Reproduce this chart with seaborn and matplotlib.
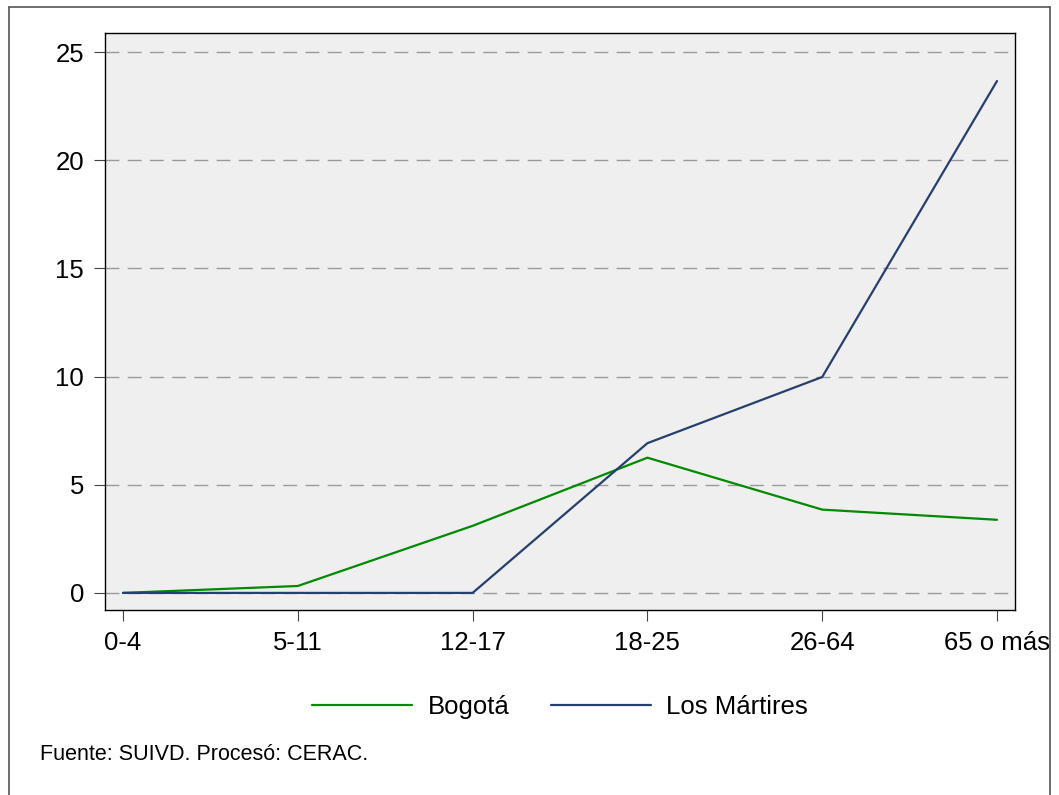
import matplotlib
matplotlib.use('Agg')
import matplotlib.pyplot as plt
import seaborn as sns
import pandas as pd
from matplotlib.lines import Line2D

# Datos
grupos_edad = ['0-4', '5-11', '12-17', '18-25', '26-64', '65 o más']
bogota = [0.0, 0.32, 3.1, 6.25, 3.85, 3.38]
los_martires = [0.0, 0.0, 0.0, 6.92, 9.98, 23.66]
series = ['Bogotá', 'Los Mártires']
colores = ['#008a00', '#253f6e']

df = pd.DataFrame({
    'pos': list(range(len(grupos_edad))) * 2,
    'valor': bogota + los_martires,
    'serie': [series[0]] * len(bogota) + [series[1]] * len(los_martires),
})

sns.set_style('white')
plt.rcParams['font.family'] = ['Liberation Sans', 'DejaVu Sans']
plt.rcParams['text.color'] = 'black'

fig = plt.figure(figsize=(10.59, 7.95), dpi=100)
ax = fig.add_axes([105 / 1059, 1 - 610 / 795, 910 / 1059, 577 / 795])
ax.set_facecolor('#efefef')

sns.lineplot(data=df, x='pos', y='valor', hue='serie', palette=colores,
             linewidth=1.6, ax=ax, legend=False, zorder=3)

ax.set_xlim(-0.103, 5.103)
ax.set_ylim(-0.79, 25.88)
ax.set_yticks([0, 5, 10, 15, 20, 25])
ax.set_xticks(range(len(grupos_edad)))
ax.set_xticklabels(grupos_edad)
ax.set_xlabel('')
ax.set_ylabel('')

for y in [0, 5, 10, 15, 20, 25]:
    ax.axhline(y, color='#9a9a9a', linewidth=1.0, linestyle=(0, (10, 6)), zorder=1)

for s in ax.spines.values():
    s.set_color('black')
    s.set_linewidth(1.0)

ax.tick_params(axis='both', which='both', direction='out', length=8, width=0.8,
               color='#444444', labelcolor='black', labelsize=18.5, pad=7,
               left=True, bottom=True)

# Leyenda
handles = [Line2D([0], [0], color=c, linewidth=1.6) for c in colores]
fig.legend(handles, series, loc='center', bbox_to_anchor=(560 / 1059, 1 - 707 / 795),
           ncol=2, frameon=False, fontsize=18.5, handlelength=3.9, handletextpad=0.6,
           columnspacing=1.6, labelcolor='black')

fig.text(40 / 1059, 1 - 755 / 795, 'Fuente: SUIVD. Procesó: CERAC.',
         fontsize=15.5, va='center', ha='left', color='black')

# Marco exterior (sin borde inferior visible)
x0, x1 = 8.5 / 1059, 1049.5 / 1059
ytop = 1 - 6.5 / 795
for xs, ys in [([x0, x0], [0, ytop]), ([x0, x1], [ytop, ytop]), ([x1, x1], [ytop, 0])]:
    fig.add_artist(Line2D(xs, ys, transform=fig.transFigure, color='#555555', linewidth=1.2))

fig.savefig('out.png', dpi=100)
